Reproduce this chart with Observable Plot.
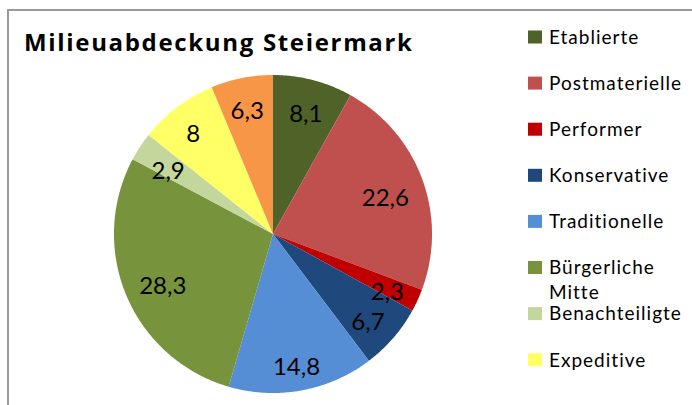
<!DOCTYPE html>
<html>
<head>
<meta charset="utf-8">
<script src="https://cdn.jsdelivr.net/npm/d3@7"></script>
<script src="https://cdn.jsdelivr.net/npm/@observablehq/plot@0.6"></script>
<style>
  html, body { margin: 0; padding: 0; background: #fff; }
  #wrap { position: relative; width: 692px; height: 405px; overflow: hidden; }
  #wrap svg { position: absolute; left: 0; top: 0; }
</style>
</head>
<body>
<div id="wrap"></div>
<script>
// ---- data ----
const title = "Milieuabdeckung Steiermark";
const categories = ["Etablierte", "Postmaterielle", "Performer", "Konservative", "Traditionelle", "Bürgerliche Mitte", "Benachteiligte", "Expeditive", "Hedonisten"];
const values = [8.1, 22.6, 2.3, 6.7, 14.8, 28.3, 2.9, 8, 6.3];
const valueLabels = ["8,1", "22,6", "2,3", "6,7", "14,8", "28,3", "2,9", "8", "6,3"];
const colors = ["#4F6228", "#C0504D", "#C00000", "#1F497D", "#558ED5", "#77933C", "#C3D69B", "#FFFF66", "#F79646"];
const legendVisibleCount = 8;

// ---- layout ----
const W = 692, H = 405;
const cx = 272.5, cy = 233.5, R = 159;
const font = "Lato, 'Open Sans', sans-serif";

// ---- slices via d3.pie (clockwise from 12 o'clock) ----
const arcs = d3.pie().sort(null).value(d => d.value)(
  categories.map((name, i) => ({name, value: values[i], label: valueLabels[i]}))
);

const pts = [];
for (const a of arcs) {
  const n = Math.max(2, Math.ceil((a.endAngle - a.startAngle) / (Math.PI / 360)));
  pts.push({name: a.data.name, x: 0, y: 0});
  for (let k = 0; k <= n; k++) {
    const t = a.startAngle + (a.endAngle - a.startAngle) * k / n;
    pts.push({name: a.data.name, x: Math.sin(t), y: Math.cos(t)});
  }
}

// label positions: "inside end" style box fit
const labelFont = 24, charW = 13.9, commaW = 5.5, boxH = 24, R0 = 146;
const labels = arcs.map(a => {
  const m = (a.startAngle + a.endAngle) / 2;
  const s = a.data.label;
  const w = [...s].reduce((acc, c) => acc + (c === "," ? commaW : charW), 0);
  const ext = Math.abs(Math.sin(m)) * w / 2 + Math.abs(Math.cos(m)) * boxH / 2;
  const d = (R0 - ext) / R;
  return {name: a.data.name, text: s, x: Math.sin(m) * d, y: Math.cos(m) * d};
});

const chart = Plot.plot({
  width: W,
  height: H,
  margin: 0,
  style: {background: "transparent", fontFamily: font},
  x: {domain: [-1, 1], range: [cx - R, cx + R], axis: null},
  y: {domain: [-1, 1], range: [cy + R, cy - R], axis: null},
  color: {domain: categories, range: colors},
  marks: [
    Plot.line(pts, {x: "x", y: "y", z: "name", fill: "name", stroke: "none"}),
    Plot.text(labels, {x: "x", y: "y", text: "text", dy: 6, fontSize: labelFont, fill: "#000", fontFamily: font})
  ]
});

const wrap = document.getElementById("wrap");
wrap.appendChild(chart);

// ---- overlay: frame, title, legend ----
const ov = d3.create("svg").attr("width", W).attr("height", H).style("pointer-events", "none");
ov.append("rect").attr("x", 8).attr("y", 10).attr("width", 800).attr("height", 600)
  .attr("fill", "none").attr("stroke", "#9a9a9a").attr("stroke-width", 2);

ov.append("text").attr("x", 24).attr("y", 51)
  .attr("font-family", "'Open Sans', Lato, sans-serif").attr("font-weight", "bold").attr("font-size", 24)
  .attr("textLength", 388).attr("lengthAdjust", "spacing")
  .attr("fill", "#000").text(title);

const lg = ov.append("g");
categories.slice(0, legendVisibleCount).forEach((name, i) => {
  const yc = 37 + 46.1 * i;
  lg.append("rect").attr("x", 528).attr("y", yc - 6.5).attr("width", 14).attr("height", 13).attr("fill", colors[i]);
  const t = lg.append("text").attr("x", 549).attr("y", yc + 6.8)
    .attr("font-family", font).attr("font-size", 19).attr("letter-spacing", "1px").attr("fill", "#000");
  const words = name.split(" ");
  if (words.length > 1) {
    t.append("tspan").attr("x", 549).text(words[0]);
    t.append("tspan").attr("x", 549).attr("dy", 24.5).text(words.slice(1).join(" "));
  } else {
    t.text(name);
  }
});

wrap.appendChild(ov.node());
</script>
</body>
</html>
